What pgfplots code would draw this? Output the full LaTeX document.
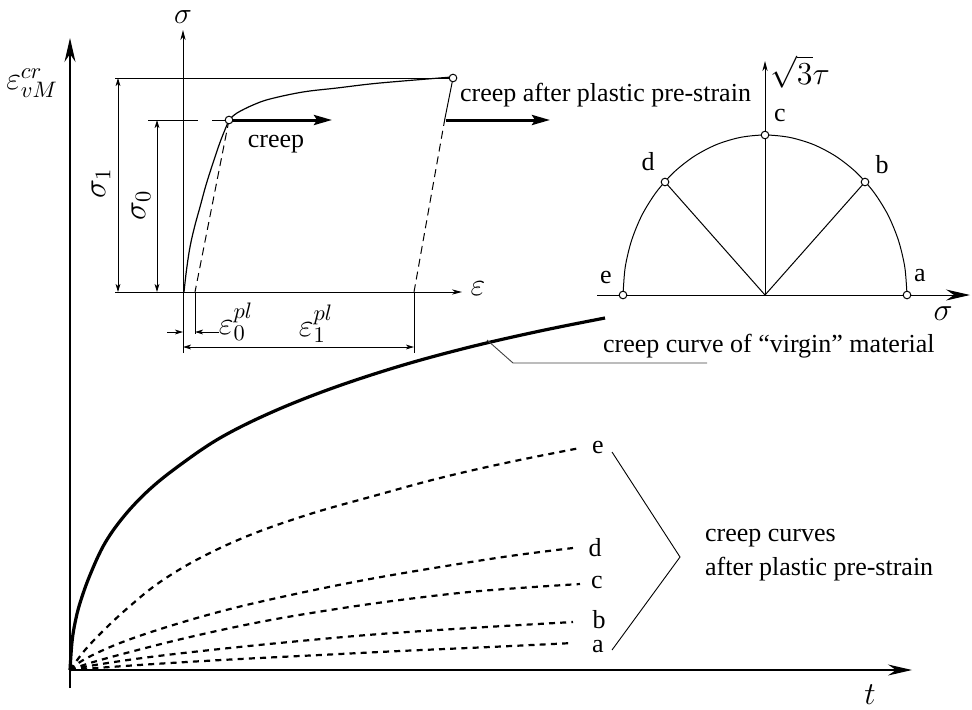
\documentclass[border=0pt]{standalone}
\usepackage{fix-cm}
\usepackage{pgfplots}
\pgfplotsset{compat=1.18}
\usepackage{fontspec}
\setmainfont{Liberation Serif}
\usetikzlibrary{arrows.meta}

\newcommand\mbig{\fontsize{16}{19}\selectfont}

\tikzset{
  axarrow/.style={-{Stealth[length=12pt,width=5.5pt,inset=4pt]}},
  smallarrow/.style={-{Stealth[length=5pt,width=2.6pt,inset=1.5pt]}},
  dimarrows/.style={{Stealth[length=4pt,width=2.4pt,inset=1pt]}-{Stealth[length=4pt,width=2.4pt,inset=1pt]}},
  dimend/.style={-{Stealth[length=4pt,width=2.4pt,inset=1pt]}},
  bigarrow/.style={line width=1.5pt,-{Stealth[length=9pt,width=5pt,inset=1.5pt]}},
  creepdash/.style={line width=1.1pt, dash pattern=on 3pt off 2.6pt},
  leader/.style={line width=0.45pt, black!75},
}

\begin{document}
\begin{tikzpicture}[font=\fontsize{13}{17}\selectfont]
\begin{axis}[
  scale only axis, width=486pt, height=354.5pt,
  xmin=-70, xmax=902, ymin=-39, ymax=670,
  axis lines=none, clip=false, no markers,
]
\coordinate (frameSW) at (rel axis cs:0,0);
\coordinate (frameNE) at (rel axis cs:1,1);

% ---------- main diagram: creep strain over time ----------
\addplot[black, line width=0.6pt, axarrow] coordinates {(0,-18) (0,632)};
\addplot[black, line width=0.6pt, axarrow] coordinates {(0,0) (842,0)};
\node[inner sep=1pt] at (axis cs:-38,587) {\mbig$\varepsilon^{cr}_{vM}$};
\node at (axis cs:800,-25) {\mbig$t$};

% creep curve of the virgin material
\addplot[black, line width=1.6pt, smooth, tension=0.6] coordinates {
  (0,0) (2,28) (5,47) (10,67) (20,95) (35,127) (55,155) (80,181) (110,205)
  (150,232) (200,257) (260,281) (330,304) (400,323) (470,339) (535,352)};

% creep curves after plastic pre-strain (e, d, c, b, a)
\addplot[black, creepdash, smooth, tension=0.6] coordinates {
  (0,0) (15,20) (35,41) (60,64) (90,88) (130,112) (180,135) (240,156)
  (300,173) (370,192) (440,208) (510,222)};
\addplot[black, creepdash, smooth, tension=0.6] coordinates {
  (0,0) (15,11) (50,27) (100,44) (160,61) (230,77) (300,91) (370,103)
  (440,114) (503,122)};
\addplot[black, creepdash, smooth, tension=0.6] coordinates {
  (0,0) (20,7) (60,18) (120,33) (190,48) (260,60) (330,70) (410,79) (510,86)};
\addplot[black, creepdash, smooth, tension=0.6] coordinates {
  (0,0) (25,5) (80,13) (150,21) (230,29) (310,36) (400,42) (503,48)};
\addplot[black, creepdash, smooth, tension=0.6] coordinates {
  (0,0) (40,3) (100,7) (170,11) (250,15) (330,19) (420,23) (503,27)};

\node at (axis cs:528,223) {e};
\node at (axis cs:525,122) {d};
\node at (axis cs:527,88) {c};
\node at (axis cs:529,50) {b};
\node at (axis cs:528,23) {a};

% bracket and labels
\addplot[black, line width=0.45pt] coordinates {(542,218) (610,113) (542,20)};
\node[anchor=west, align=left] at (axis cs:628,115) {creep curves\\after plastic pre-strain};

\addplot[leader] coordinates {(417,330) (443,307) (637,307)};
\node[anchor=west] at (axis cs:526,324) {creep curve of “virgin” material};

% ---------- inset: stress-strain with pre-strain ----------
\addplot[black, line width=0.5pt, smallarrow] coordinates {(113,317) (113,640)};
\addplot[black, line width=0.5pt, smallarrow] coordinates {(45,378) (392,378)};
\node[inner sep=0pt] at (axis cs:113,653) {\fontsize{15}{18}\selectfont$\sigma$};
\node at (axis cs:408,381) {\mbig$\varepsilon$};

\addplot[black, line width=0.5pt] coordinates {(45,592) (383,592)};
\addplot[black, line width=0.5pt] coordinates {(78,550) (128,550)};
\addplot[black, line width=0.5pt] coordinates {(142,550) (159,550)};

% loading path
\addplot[black, line width=0.6pt, smooth, tension=0.6] coordinates {
  (114,378) (116.5,400) (120,423) (124.5,443) (130,463) (136,485) (143,507)
  (150.5,529) (159,550)};
\addplot[black, line width=0.6pt, smooth, tension=0.6] coordinates {
  (160,551) (167,557) (183,565) (200,571) (233,578) (267,582) (300,586)
  (333,589) (382,593)};

% unloading paths
\addplot[black, line width=0.5pt, dash pattern=on 4pt off 2.5pt] coordinates {(159,550) (125,378)};
\addplot[black, line width=0.5pt] coordinates {(383,592) (375,552)};
\addplot[black, line width=0.5pt, dash pattern=on 4pt off 2.5pt] coordinates {(375,552) (344,378)};

% creep arrows
\addplot[black, bigarrow] coordinates {(159,550) (262,550)};
\node at (axis cs:206,526) {creep};
\addplot[black, bigarrow] coordinates {(376,550) (480,550)};
\node[anchor=west] at (axis cs:383,575) {creep after plastic pre-strain};

% stress dimensions
\addplot[black, line width=0.5pt, dimarrows] coordinates {(48,378) (48,592)};
\node[rotate=90] at (axis cs:31,487) {\mbig$\sigma_1$};
\addplot[black, line width=0.5pt, dimarrows] coordinates {(87,378) (87,550)};
\node[rotate=90] at (axis cs:71,465) {\mbig$\sigma_0$};

% plastic strain dimensions
\addplot[black, line width=0.5pt] coordinates {(125,378) (125,336)};
\addplot[black, line width=0.5pt] coordinates {(344,378) (344,317)};
\addplot[black, line width=0.5pt, dimend] coordinates {(97,338) (113,338)};
\addplot[black, line width=0.5pt, dimend] coordinates {(149,338) (125,338)};
\node at (axis cs:166,348) {\mbig$\varepsilon^{pl}_0$};
\addplot[black, line width=0.5pt, dimarrows] coordinates {(113,323) (344,323)};
\node at (axis cs:246,346) {\mbig$\varepsilon^{pl}_1$};

% points on the stress-strain curve
\addplot[only marks, mark=*, mark size=1.9pt, mark options={fill=white, draw=black, line width=0.5pt}]
  coordinates {(159,550) (383,592)};

% ---------- inset: load directions in the sigma-tau plane ----------
\addplot[black, line width=0.5pt, axarrow] coordinates {(527,375) (900,375)};
\addplot[black, line width=0.5pt, smallarrow] coordinates {(695,375) (695,609)};
\node at (axis cs:873,356) {\mbig$\sigma$};
\node at (axis cs:730,598) {\mbig$\sqrt{3}\tau$};

\addplot[black, line width=0.5pt, smooth] coordinates {
  (837,375) (834.8,402.8) (828.4,429.7) (818.0,455.0) (803.8,477.8)
  (786.3,497.6) (766.0,513.6) (743.6,525.4) (719.7,532.6) (695,535)
  (670.3,532.6) (646.4,525.4) (624.0,513.6) (603.7,497.6) (586.2,477.8)
  (572.0,455.0) (561.6,429.7) (555.2,402.8) (553,375)};
\addplot[black, line width=0.5pt] coordinates {(595,488) (695,375) (795,488)};
\addplot[black, line width=0.5pt] coordinates {(695,375) (695,535)};

\addplot[only marks, mark=*, mark size=1.9pt, mark options={fill=white, draw=black, line width=0.5pt}]
  coordinates {(837,375) (795,488) (695,535) (595,488) (553,375)};

\node at (axis cs:850,394) {a};
\node at (axis cs:812,505) {b};
\node at (axis cs:710,555) {c};
\node at (axis cs:578,508) {d};
\node at (axis cs:536,393) {e};
\end{axis}
\pgfresetboundingbox
\useasboundingbox (frameSW) rectangle (frameNE);
\end{tikzpicture}
\end{document}
